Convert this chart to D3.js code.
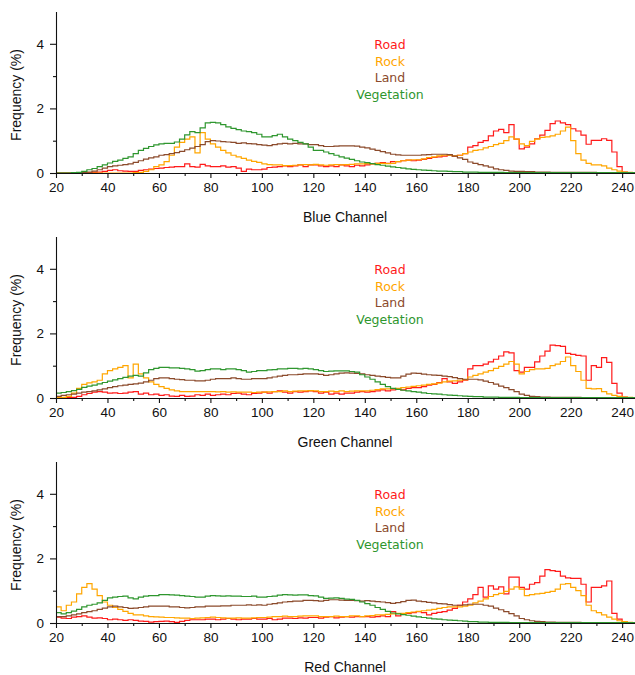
<!DOCTYPE html>
<html>
<head>
<meta charset="utf-8">
<script src="https://cdn.jsdelivr.net/npm/d3@7"></script>
<style>
  body { margin: 0; background: #fff; }
  .tick text { font-family: "Liberation Sans", Arial, sans-serif; font-size: 13.5px; fill: #111; }
  .axis-label { font-family: "Liberation Sans", Arial, sans-serif; font-size: 14px; fill: #111; }
  .legend text { font-family: "DejaVu Sans", Verdana, sans-serif; font-size: 12.5px; }
</style>
</head>
<body>
<div id="chart"></div>
<script>
// histogram bins: width 2, starting at 20
var binStart = 20, binWidth = 2;
var classes = ["Road", "Rock", "Land", "Vegetation"];
var colors = ["#ff1a1a", "#ffa600", "#8b4a2b", "#2e962e"];
var channels = ["Blue Channel", "Green Channel", "Red Channel"];
var xTicks = [20, 40, 60, 80, 100, 120, 140, 160, 180, 200, 220, 240];
var yTicks = [0, 2, 4];

// ---- Blue channel ----
var blueRoad = [0,0,0,0,0,0,0.01,0.02,0.03,0.05,
  0.08,0.1,0.07,0.06,0.05,0.05,0.08,0.1,0.12,0.14,
  0.15,0.17,0.18,0.2,0.2,0.28,0.2,0.18,0.27,0.22,
  0.2,0.2,0.22,0.18,0.2,0.15,0.05,0.12,0.1,0.1,
  0.12,0.17,0.18,0.2,0.22,0.2,0.22,0.25,0.2,0.25,
  0.25,0.22,0.2,0.22,0.2,0.25,0.22,0.2,0.24,0.22,
  0.25,0.28,0.3,0.32,0.3,0.35,0.35,0.38,0.4,0.38,
  0.4,0.42,0.45,0.48,0.5,0.52,0.55,0.52,0.55,0.6,
  0.8,0.85,0.95,1.0,1.15,1.3,1.35,1.25,1.5,1.05,
  0.75,0.8,0.9,1.06,1.17,1.32,1.53,1.61,1.55,1.5,
  1.37,1.3,1.17,0.89,1.01,1.01,1.06,1.01,0.65,0.2,
  0.03,0.01,0];
var blueRock = [0,0,0,0,0,0,0,0,0,0,
  0,0,0,0,0,0.01,0.02,0.05,0.1,0.2,
  0.25,0.35,0.55,0.8,0.95,1.05,1.12,0.62,1.25,1.05,
  0.9,0.8,0.7,0.62,0.55,0.5,0.45,0.4,0.36,0.33,
  0.28,0.26,0.25,0.25,0.23,0.23,0.24,0.25,0.26,0.25,
  0.27,0.25,0.24,0.25,0.26,0.25,0.26,0.27,0.28,0.28,
  0.29,0.28,0.3,0.3,0.29,0.3,0.35,0.38,0.4,0.41,
  0.41,0.44,0.48,0.5,0.53,0.55,0.55,0.53,0.55,0.6,
  0.65,0.7,0.72,0.78,0.82,0.88,0.92,1.0,1.12,1.05,
  0.9,0.85,0.98,1.05,1.1,1.12,1.15,1.2,1.3,1.42,
  1.0,0.6,0.4,0.3,0.25,0.25,0.22,0.15,0.1,0.06,
  0.03,0.02,0.01];
var blueLand = [0,0,0,0,0,0.01,0.03,0.06,0.1,0.15,
  0.2,0.22,0.24,0.26,0.28,0.33,0.38,0.43,0.47,0.5,
  0.55,0.57,0.6,0.63,0.67,0.72,0.77,0.82,0.88,0.97,
  1.0,0.99,0.97,0.96,0.95,0.92,0.93,0.91,0.9,0.88,
  0.86,0.85,0.88,0.9,0.92,0.9,0.92,0.9,0.9,0.88,
  0.88,0.85,0.82,0.82,0.83,0.84,0.84,0.84,0.83,0.8,
  0.78,0.74,0.7,0.66,0.62,0.58,0.56,0.55,0.55,0.55,
  0.55,0.56,0.57,0.58,0.58,0.58,0.57,0.52,0.47,0.42,
  0.34,0.3,0.26,0.22,0.18,0.13,0.1,0.08,0.06,0.05,
  0.05,0.04,0.04,0.03,0.03,0.03,0.02,0.02,0.02,0.02,
  0.02,0.02,0.02,0.02,0.02,0.01,0.01,0.01,0.01,0.01,
  0.01,0.01,0.01];
var blueVeg = [0,0,0,0.01,0.02,0.05,0.1,0.14,0.2,0.25,
  0.31,0.36,0.4,0.45,0.5,0.6,0.7,0.76,0.82,0.87,
  0.9,0.92,0.92,0.96,1.05,1.18,1.28,1.25,1.4,1.55,
  1.57,1.55,1.5,1.43,1.38,1.34,1.3,1.28,1.25,1.2,
  1.12,1.12,1.16,1.2,1.12,1.05,1.0,0.95,0.9,0.8,
  0.7,0.7,0.65,0.6,0.55,0.5,0.46,0.42,0.38,0.34,
  0.32,0.29,0.26,0.24,0.21,0.19,0.17,0.15,0.13,0.11,
  0.1,0.09,0.08,0.07,0.06,0.06,0.05,0.04,0.04,0.03,
  0.03,0.03,0.02,0.02,0.02,0.02,0.02,0.01,0.01,0.01,
  0.01,0.01,0.01,0.01,0.01,0.01,0.01,0.01,0.01,0.01,
  0.01,0.01,0.01,0.01,0.01,0.01,0.01,0.01,0.01,0.01,
  0.01,0.01,0.01];

// ---- Green channel ----
var greenRoad = [0,0,0.01,0.02,0.05,0.1,0.14,0.18,0.2,0.18,
  0.15,0.16,0.14,0.15,0.18,0.2,0.12,0.15,0.1,0.12,
  0.08,0.1,0.06,0.05,0.08,0.05,0.06,0.1,0.08,0.12,
  0.08,0.1,0.12,0.1,0.14,0.15,0.12,0.1,0.14,0.15,
  0.18,0.15,0.2,0.22,0.18,0.15,0.2,0.18,0.2,0.22,
  0.2,0.15,0.18,0.12,0.15,0.12,0.15,0.15,0.18,0.2,
  0.18,0.2,0.22,0.25,0.22,0.25,0.28,0.25,0.3,0.32,
  0.32,0.35,0.4,0.42,0.48,0.6,0.5,0.45,0.5,0.55,
  0.9,1.0,1.0,1.05,1.12,1.2,1.3,1.43,1.4,0.85,
  0.8,0.95,0.95,1.12,1.3,1.45,1.64,1.62,1.6,1.38,
  1.35,1.32,1.3,0.55,1.0,0.95,1.25,1.1,0.45,0.15,
  0.03,0.01,0];
var greenRock = [0.01,0.02,0.05,0.15,0.3,0.42,0.47,0.5,0.55,0.75,
  0.85,0.9,0.95,1.0,0.62,1.05,0.75,0.62,0.5,0.42,
  0.35,0.3,0.25,0.22,0.2,0.2,0.2,0.2,0.2,0.2,
  0.2,0.19,0.2,0.18,0.19,0.18,0.18,0.18,0.17,0.18,
  0.18,0.19,0.2,0.2,0.22,0.2,0.21,0.22,0.22,0.23,
  0.22,0.2,0.2,0.21,0.2,0.22,0.2,0.21,0.22,0.22,
  0.22,0.24,0.26,0.28,0.28,0.29,0.3,0.32,0.34,0.36,
  0.38,0.4,0.42,0.44,0.46,0.5,0.52,0.53,0.55,0.57,
  0.65,0.7,0.75,0.8,0.85,0.92,0.98,1.05,1.13,1.05,
  0.75,0.82,0.88,0.9,0.9,0.92,1.0,1.05,1.13,1.27,
  1.0,0.82,0.55,0.3,0.28,0.29,0.2,0.13,0.08,0.05,
  0.03,0.02,0.01];
var greenLand = [0.05,0.08,0.1,0.12,0.15,0.18,0.2,0.22,0.25,0.28,
  0.32,0.35,0.38,0.4,0.42,0.44,0.46,0.5,0.55,0.6,
  0.62,0.62,0.6,0.58,0.57,0.55,0.55,0.53,0.53,0.55,
  0.58,0.6,0.6,0.6,0.62,0.6,0.58,0.58,0.6,0.6,
  0.6,0.62,0.65,0.68,0.7,0.72,0.72,0.73,0.75,0.75,
  0.75,0.73,0.7,0.72,0.75,0.77,0.78,0.77,0.76,0.75,
  0.72,0.7,0.68,0.66,0.64,0.62,0.62,0.68,0.74,0.77,
  0.76,0.74,0.72,0.71,0.7,0.68,0.66,0.63,0.6,0.58,
  0.58,0.58,0.56,0.52,0.48,0.43,0.37,0.32,0.26,0.2,
  0.12,0.08,0.05,0.04,0.03,0.03,0.02,0.02,0.02,0.02,
  0.02,0.02,0.01,0.01,0.01,0.01,0.01,0.01,0.01,0.01,
  0.01,0.01,0.01];
var greenVeg = [0.15,0.17,0.2,0.23,0.27,0.33,0.37,0.4,0.44,0.48,
  0.52,0.56,0.6,0.64,0.68,0.7,0.68,0.78,0.88,0.92,
  0.95,0.95,0.93,0.93,0.92,0.9,0.88,0.83,0.85,0.88,
  0.9,0.9,0.88,0.9,0.9,0.88,0.85,0.8,0.82,0.85,
  0.85,0.87,0.88,0.9,0.9,0.92,0.92,0.9,0.92,0.9,
  0.88,0.85,0.82,0.83,0.84,0.84,0.84,0.82,0.8,0.72,
  0.65,0.58,0.5,0.42,0.35,0.3,0.27,0.24,0.22,0.2,
  0.18,0.16,0.14,0.13,0.12,0.1,0.09,0.08,0.07,0.06,
  0.05,0.04,0.04,0.03,0.03,0.03,0.02,0.02,0.02,0.02,
  0.01,0.01,0.01,0.01,0.01,0.01,0.01,0.01,0.01,0.01,
  0.01,0.01,0.01,0.01,0.01,0.01,0.01,0.01,0.01,0.01,
  0.01,0.01,0.01];

// ---- Red channel ----
var redRoad = [0.18,0.15,0.14,0.18,0.2,0.22,0.18,0.15,0.16,0.14,
  0.1,0.12,0.1,0.08,0.1,0.08,0.06,0.05,0.03,0.04,
  0.05,0.06,0.04,0.02,0.05,0.08,0.1,0.1,0.1,0.12,
  0.12,0.1,0.12,0.14,0.12,0.1,0.12,0.12,0.14,0.12,
  0.12,0.14,0.1,0.12,0.15,0.15,0.14,0.16,0.15,0.17,
  0.17,0.15,0.18,0.2,0.16,0.18,0.2,0.18,0.2,0.2,
  0.2,0.18,0.2,0.22,0.2,0.35,0.22,0.28,0.3,0.32,
  0.35,0.32,0.25,0.3,0.33,0.35,0.4,0.45,0.55,0.65,
  0.75,0.88,1.1,0.8,1.15,1.05,1.12,0.9,1.42,1.42,
  1.1,1.05,1.2,1.25,1.45,1.65,1.62,1.6,1.45,1.4,
  1.38,1.38,1.2,0.65,1.1,1.1,1.15,1.3,0.3,0.12,
  0.03,0.01,0];
var redRock = [0.5,0.38,0.55,0.65,0.9,1.1,1.22,1.05,0.85,0.65,
  0.55,0.48,0.42,0.36,0.3,0.25,0.25,0.22,0.2,0.19,
  0.18,0.17,0.17,0.16,0.15,0.15,0.14,0.15,0.16,0.17,
  0.18,0.17,0.16,0.15,0.15,0.16,0.15,0.15,0.16,0.17,
  0.17,0.18,0.2,0.2,0.21,0.2,0.2,0.21,0.22,0.22,
  0.22,0.2,0.2,0.2,0.21,0.2,0.2,0.22,0.22,0.2,
  0.22,0.23,0.25,0.25,0.27,0.28,0.3,0.3,0.32,0.34,
  0.36,0.38,0.4,0.42,0.45,0.48,0.5,0.5,0.5,0.52,
  0.55,0.62,0.68,0.75,0.82,0.88,0.92,0.98,1.05,1.12,
  1.05,0.85,0.88,0.9,0.92,0.95,0.98,1.05,1.2,1.22,
  1.1,1.0,0.85,0.55,0.38,0.32,0.25,0.18,0.12,0.07,
  0.04,0.02,0.01];
var redLand = [0.2,0.2,0.22,0.25,0.28,0.32,0.35,0.38,0.42,0.46,
  0.5,0.52,0.5,0.48,0.45,0.46,0.48,0.5,0.52,0.52,
  0.52,0.52,0.5,0.5,0.48,0.47,0.48,0.5,0.5,0.52,
  0.52,0.52,0.53,0.53,0.55,0.55,0.55,0.56,0.55,0.56,
  0.55,0.58,0.6,0.62,0.65,0.66,0.68,0.68,0.7,0.7,
  0.69,0.68,0.7,0.72,0.72,0.71,0.7,0.7,0.69,0.68,
  0.69,0.68,0.66,0.65,0.63,0.61,0.63,0.66,0.7,0.71,
  0.68,0.66,0.64,0.62,0.6,0.59,0.57,0.55,0.55,0.56,
  0.58,0.58,0.58,0.55,0.52,0.46,0.41,0.35,0.29,0.22,
  0.14,0.1,0.07,0.05,0.04,0.03,0.03,0.02,0.02,0.02,
  0.02,0.02,0.01,0.01,0.01,0.01,0.01,0.01,0.01,0.01,
  0.01,0.01,0.01];
var redVeg = [0.32,0.28,0.32,0.37,0.42,0.5,0.55,0.58,0.62,0.7,
  0.78,0.8,0.82,0.83,0.78,0.75,0.8,0.83,0.85,0.85,
  0.88,0.88,0.87,0.86,0.85,0.83,0.82,0.8,0.8,0.83,
  0.85,0.84,0.83,0.84,0.83,0.83,0.82,0.82,0.83,0.8,
  0.8,0.82,0.83,0.86,0.88,0.87,0.86,0.87,0.87,0.85,
  0.84,0.8,0.76,0.77,0.78,0.76,0.74,0.73,0.7,0.65,
  0.6,0.55,0.48,0.42,0.36,0.31,0.28,0.26,0.24,0.21,
  0.19,0.17,0.15,0.13,0.12,0.1,0.09,0.08,0.07,0.06,
  0.04,0.04,0.03,0.03,0.02,0.02,0.02,0.02,0.01,0.01,
  0.01,0.01,0.01,0.01,0.01,0.01,0.01,0.01,0.01,0.01,
  0.01,0.01,0.01,0.01,0.01,0.01,0.01,0.01,0.01,0.01,
  0.01,0.01,0.01];

var panels = [
  [blueRoad, blueRock, blueLand, blueVeg],
  [greenRoad, greenRock, greenLand, greenVeg],
  [redRoad, redRock, redLand, redVeg]
];

var width = 635, panelH = 225;
var svg = d3.select("#chart").append("svg")
  .attr("width", width)
  .attr("height", 675);

var x = d3.scaleLinear().domain([20, 245]).range([56, 635]);
var y = d3.scaleLinear().domain([0, 5]).range([173, 11.5]);

svg.append("clipPath").attr("id", "plot-clip")
  .append("rect")
  .attr("x", 56).attr("y", 0)
  .attr("width", width - 56).attr("height", 174);

function toPoints(vals) {
  var pts = vals.map(function(v, i) { return [binStart + i * binWidth, v]; });
  pts.push([binStart + vals.length * binWidth, vals[vals.length - 1]]);
  return pts;
}

var line = d3.line()
  .x(function(d) { return x(d[0]); })
  .y(function(d) { return y(d[1]); })
  .curve(d3.curveStepAfter);

panels.forEach(function(series, p) {
  var g = svg.append("g").attr("transform", "translate(0," + (p * panelH) + ")");

  // step lines
  var lines = g.append("g").attr("clip-path", "url(#plot-clip)");
  series.forEach(function(vals, k) {
    lines.append("path")
      .attr("d", line(toPoints(vals)))
      .attr("fill", "none")
      .attr("stroke", colors[k])
      .attr("stroke-width", 1.2);
  });

  // minor ticks
  var xMinor = g.append("g")
    .attr("transform", "translate(0,173)")
    .call(d3.axisBottom(x).tickValues(d3.range(30, 245, 20)).tickSize(3).tickFormat(""));
  xMinor.select(".domain").remove();
  var yMinor = g.append("g")
    .attr("transform", "translate(56,0)")
    .call(d3.axisLeft(y).tickValues([1, 3]).tickSize(3).tickFormat(""));
  yMinor.select(".domain").remove();

  // major axes
  g.append("g")
    .attr("transform", "translate(0,173)")
    .call(d3.axisBottom(x).tickValues(xTicks).tickSize(5).tickPadding(4).tickSizeOuter(0));
  g.append("g")
    .attr("transform", "translate(56,0)")
    .call(d3.axisLeft(y).tickValues(yTicks).tickFormat(d3.format("d"))
      .tickSize(6).tickPadding(6).tickSizeOuter(0));

  g.selectAll(".domain, .tick line").attr("stroke", "#111").attr("stroke-width", 1.1);

  // axis labels
  g.append("text")
    .attr("class", "axis-label")
    .attr("x", 345).attr("y", 222)
    .attr("text-anchor", "middle")
    .text(channels[p]);
  g.append("text")
    .attr("class", "axis-label")
    .attr("transform", "translate(21,95) rotate(-90)")
    .attr("text-anchor", "middle")
    .text("Frequency (%)");

  // legend
  var leg = g.append("g").attr("class", "legend");
  classes.forEach(function(c, k) {
    leg.append("text")
      .attr("x", 390)
      .attr("y", 49 + k * 16.5)
      .attr("text-anchor", "middle")
      .attr("fill", colors[k])
      .text(c);
  });
});
</script>
</body>
</html>
